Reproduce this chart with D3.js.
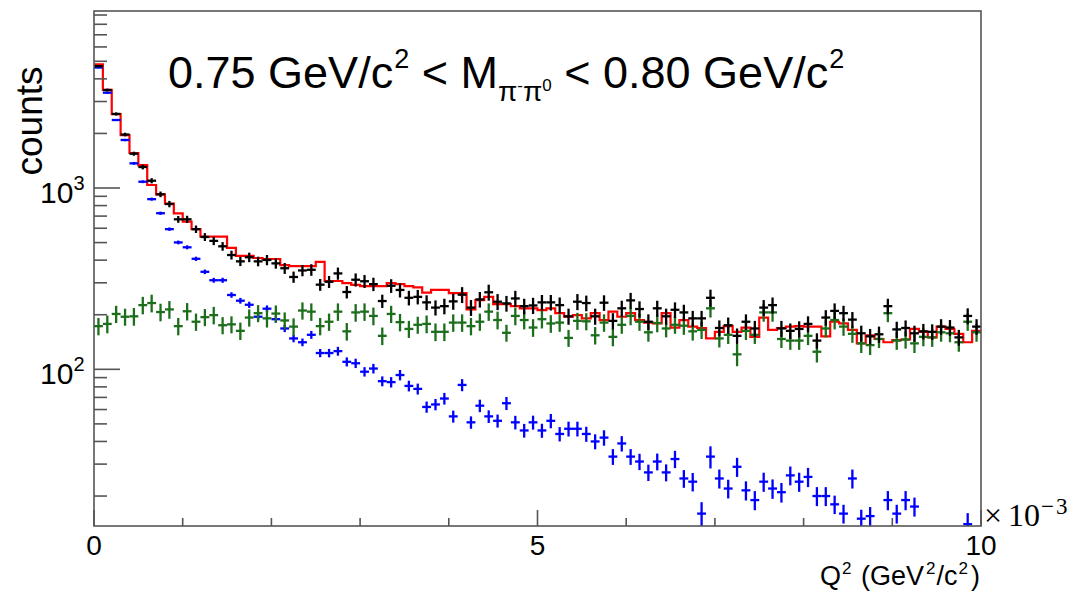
<!DOCTYPE html>
<html><head><meta charset="utf-8">
<script src="https://cdn.jsdelivr.net/npm/d3@7"></script>
<style>
body{margin:0;background:#fff}
svg{display:block}
text{font-family:"Liberation Sans",Arial,Helvetica,sans-serif;fill:#000}
</style>
</head><body>
<svg id="c" width="1076" height="595"></svg>
<script>
// ---------------- data ----------------
const nBins = 100, xMin = 0, xMax = 10;
const binWidth = (xMax - xMin) / nBins;
const binCenters = d3.range(nBins).map(i => xMin + (i + 0.5) * binWidth);

// black: data
const dataCounts = [4700,3471,2562,1973,1546,1306,1097,923,816,672,
 672,593,537,511,477,427,394,415,394,401,
 384,361,323,351,354,293,304,338,267,312,
 306,295,238,289,274,248,251,234,219,223,
 237,258,219,243,266,236,231,246,223,225,
 234,234,226,196,236,232,196,233,185,217,
 240,215,183,217,196,213,206,191,191,248,
 169,175,153,183,168,219,226,168,163,167,
 178,144,193,210,204,188,158,152,156,223,
 166,169,158,162,161,172,170,150,197,172];
const dataErrors = [70,62,51,45,40,39,36,33,33,29,
 31,28,27,27,26,24,23,25,24,26,
 25,25,23,25,26,22,23,26,21,26,
 25,25,20,25,25,23,23,22,21,22,
 24,26,22,24,27,24,23,25,22,23,
 23,23,23,20,24,23,20,23,19,22,
 24,22,18,22,20,21,21,19,19,27,
 17,18,15,18,17,22,23,17,16,17,
 18,14,19,21,20,19,16,15,16,22,
 17,17,16,16,16,17,17,15,20,17];

// red: total (histogram line)
const totalCounts = [4810,3475,2558,1960,1560,1339,1039,923,821,725,
 652,594,539,539,539,467,422,422,411,406,
 406,376,371,371,371,391,307,307,299,292,
 288,288,288,299,295,288,283,265,274,274,
 263,263,214,241,251,229,229,223,217,217,
 212,217,204,195,199,191,204,187,208,195,
 204,187,181,179,204,170,187,172,169,148,
 161,173,161,170,151,193,165,169,172,173,
 172,172,152,183,179,165,139,154,147,141,
 145,146,167,161,150,172,167,157,141,163];

// blue component
const blueCounts = [4620,3355,2372,1840,1368,1083,868,726,593,501,
 471,407,345,310,310,257,239,227,195,216,
 189,168,148,141,155,123,123,126,110,108,
 97,101,86,85,93,81,78,62,64,69,
 55,82,51,63,55,52,65,51,46,51,
 46,52,44,47,47,44,40,42,33,39,
 33,31,27,31,27,32,25,24,16,33,
 25,22,29,21.5,19,24,22,21,26,24,
 25.5,20,20,18,16,25,15,15.5,null,19,
 16,19,17.5,null,null,null,null,null,14,null];
const blueErrors = [47,40,31,28,23,19,17,15,13,12,
 12,11,10,9.6,10,9,8.8,8.9,8,9.1,
 8.1,7.6,7,6.9,7.8,6.4,6.6,7.1,6.3,6.4,
 5.8,6.2,5.4,5.6,6.1,5.5,5.4,4.4,4.6,5.1,
 4.2,6.3,4,5,4.4,4.3,5.4,4.4,4,4.5,
 4.1,4.7,4,4.4,4.4,4.2,3.8,4.1,3.3,3.8,
 3.3,3.2,2.8,3.3,2.9,3.5,2.8,2.8,2.5,4.6,
 3,2.6,3.5,2.6,2.3,2.9,2.7,2.6,3.1,2.9,
 3.1,2.4,2.4,2.1,1.9,3,1.8,1.9,0,2.3,
 1.9,2.3,2.1,0,0,0,0,0,2.1,0];

// green component
const greenCounts = [173,178,202,195,196,226,232,207,214,173,
 209,183,194,199,175,177,163,193,204,191,
 203,186,172,211,208,173,183,208,162,206,
 208,197,153,202,182,167,176,178,161,161,
 181,181,173,183,208,187,159,197,187,170,
 189,179,181,149,185,184,154,181,151,176,
 197,183,160,180,168,176,174,162,165,217,
 148,155,121,163,155,206,206,147,144,144,
 153,125,168,187,172,157,139,136,147,204,
 144,146,139,151,150,160,158,141,183,160];
const greenErrors = [19,20,22,21,22,25,26,23,24,19,
 23,20,21,22,19,19,18,21,22,21,
 22,20,19,23,23,19,20,23,18,23,
 23,22,17,22,20,18,19,20,18,18,
 20,20,19,20,23,21,17,22,21,19,
 21,20,20,16,20,20,17,20,17,19,
 22,20,18,20,18,19,19,18,18,24,
 16,17,17,18,17,23,23,16,16,16,
 17,16,18,21,19,17,16,16,16,22,
 16,16,16,17,17,18,17,16,20,18];

const xMajorTicks = [0, 5, 10];
const xMajorLabels = ["0", "5", "10"];
const xMinorTicks = [1, 2, 3, 4, 6, 7, 8, 9];
const yMajorTicks = [100, 1000];
const yMajorExponents = ["2", "3"];
const yMinorTicks = [20,30,40,50,60,70,80,90,200,300,400,500,600,700,800,900,2000,3000,4000,5000,6000,7000,8000,9000];
const yDomain = [13.67, 9470];

// ---------------- drawing ----------------
const svg = d3.select("#c");
const L = 94, R = 981, T = 11, B = 526;
const x = d3.scaleLinear().domain([xMin, xMax]).range([L, R]);
const y = d3.scaleLog().domain(yDomain).range([B, T]);
const axisColor = "#555";

svg.append("defs").append("clipPath").attr("id", "fr")
  .append("rect").attr("x", L).attr("y", T).attr("width", R - L).attr("height", B - T);

const plot = svg.append("g").attr("clip-path", "url(#fr)");

// red histogram line
const edges = binCenters.map(c => c - binWidth / 2);
const stepPts = totalCounts.map((v, i) => [edges[i], v]);
stepPts.push([xMax, totalCounts[nBins - 1]]);
plot.append("path")
  .attr("d", d3.line().x(d => x(d[0])).y(d => y(d[1])).curve(d3.curveStepAfter)(stepPts))
  .attr("fill", "none").attr("stroke", "#ff0000").attr("stroke-width", 2.2);

function crosses(vals, errs, color) {
  const g = plot.append("g").attr("stroke", color).attr("stroke-width", 2.3);
  vals.forEach((v, i) => {
    if (v === null) return;
    const c = binCenters[i];
    g.append("line").attr("x1", x(c - binWidth / 2)).attr("x2", x(c + binWidth / 2))
      .attr("y1", y(v)).attr("y2", y(v));
    const e = errs[i];
    if (e > 0) {
      const lo = Math.max(v - e, yDomain[0] * 0.5);
      g.append("line").attr("x1", x(c)).attr("x2", x(c))
        .attr("y1", y(lo)).attr("y2", y(v + e));
    }
  });
}
crosses(blueCounts, blueErrors, "#0000ff");
crosses(greenCounts, greenErrors, "#1c6e1c");
crosses(dataCounts, dataErrors, "#000000");

// frame
svg.append("rect").attr("x", L).attr("y", T).attr("width", R - L).attr("height", B - T)
  .attr("fill", "none").attr("stroke", axisColor).attr("stroke-width", 1.6);

// ticks
const ax = svg.append("g").attr("stroke", axisColor).attr("stroke-width", 1.6);
xMajorTicks.forEach(t => ax.append("line").attr("x1", x(t)).attr("x2", x(t)).attr("y1", B).attr("y2", B - 16));
xMinorTicks.forEach(t => ax.append("line").attr("x1", x(t)).attr("x2", x(t)).attr("y1", B).attr("y2", B - 8));
yMajorTicks.forEach(t => ax.append("line").attr("x1", L).attr("x2", L + 26).attr("y1", y(t)).attr("y2", y(t)));
yMinorTicks.forEach(t => ax.append("line").attr("x1", L).attr("x2", L + 13).attr("y1", y(t)).attr("y2", y(t)));

xMajorTicks.forEach((t, i) => svg.append("text").attr("x", x(t)).attr("y", 555)
  .attr("text-anchor", "middle").attr("font-size", 28).text(xMajorLabels[i]));

yMajorTicks.forEach((t, i) => {
  const tx = svg.append("text").attr("x", 40).attr("y", y(t) + 15).attr("font-size", 30);
  tx.append("tspan").text("10");
  tx.append("tspan").attr("font-size", 20).attr("dy", -13).text(yMajorExponents[i]);
});

// y title
svg.append("text").attr("transform", "translate(42,121) rotate(-90)")
  .attr("text-anchor", "middle").attr("font-size", 37).text("counts");

// x title
const xt = svg.append("text").attr("x", 980).attr("y", 585).attr("text-anchor", "end").attr("font-size", 27);
xt.append("tspan").text("Q");
xt.append("tspan").attr("font-size", 17).attr("dy", -11).attr("dx", 1).text("2");
xt.append("tspan").attr("dy", 11).attr("dx", 2).text(" (GeV");
xt.append("tspan").attr("font-size", 17).attr("dy", -11).attr("dx", 2).text("2");
xt.append("tspan").attr("dy", 11).attr("dx", 1).text("/c");
xt.append("tspan").attr("font-size", 17).attr("dy", -11).attr("dx", 1).text("2");
xt.append("tspan").attr("dy", 11).attr("dx", 3).text(")");

// exponent
const ex = svg.append("text").attr("x", 984).attr("y", 526).attr("font-size", 32)
  .style("font-family", '"Liberation Serif","Times New Roman",serif');
ex.append("tspan").text("×");
ex.append("tspan").attr("dx", 6).text("10");
ex.append("tspan").attr("font-size", 23).attr("dy", -12).attr("dx", 1).attr("letter-spacing", 2).text("−3");

// title
const tt = svg.append("text").attr("x", 168).attr("y", 88).attr("font-size", 45);
tt.append("tspan").text("0.75 GeV/c");
tt.append("tspan").attr("font-size", 27).attr("dy", -20).attr("dx", 1).text("2");
tt.append("tspan").attr("dy", 20).text(" < M");
tt.append("tspan").attr("font-size", 28).attr("dy", 13).text("π");
tt.append("tspan").attr("font-size", 17).attr("dy", -10).text("-");
tt.append("tspan").attr("font-size", 28).attr("dy", 10).text("π");
tt.append("tspan").attr("font-size", 17).attr("dy", -10).text("0");
tt.append("tspan").attr("dy", -3).text(" < 0.80 GeV/c");
tt.append("tspan").attr("font-size", 27).attr("dy", -20).attr("dx", 1).text("2");
</script>
</body></html>
